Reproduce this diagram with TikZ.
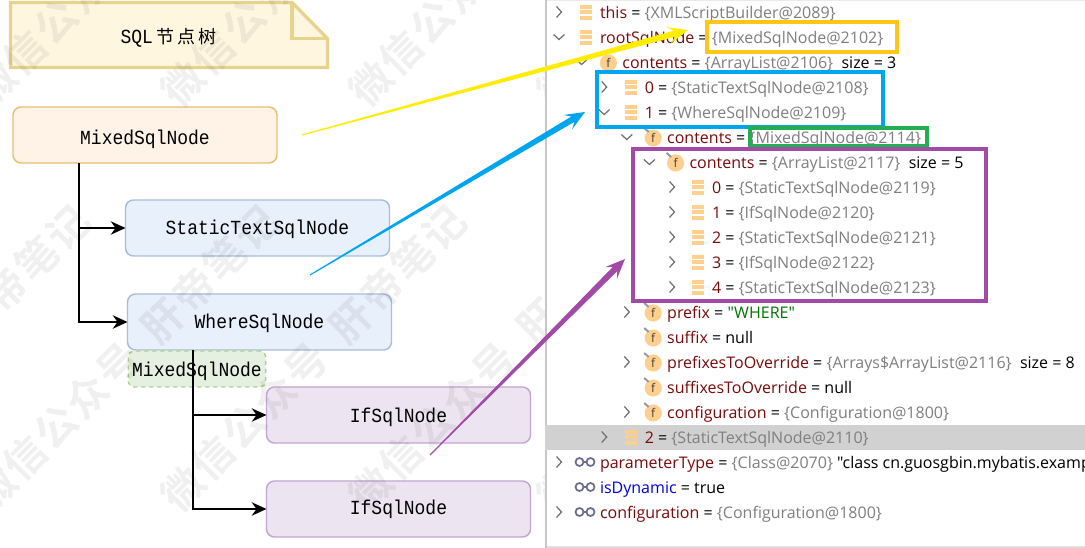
\documentclass[tikz,border=0pt]{standalone}
\usepackage{fontspec}
\setmainfont{Open Sans}
\newfontfamily\plainf{Open Sans}
\newfontfamily\monof[FakeStretch=0.9]{Liberation Mono}
\newfontfamily\cjkf{Noto Sans CJK SC}
\newfontfamily\wmf[LetterSpace=6]{Noto Sans CJK SC Bold}
\usetikzlibrary{arrows.meta,calc}
\definecolor{kw}{HTML}{7A0A0A}
\definecolor{gy}{HTML}{7F7F7F}
\definecolor{icn}{HTML}{FFCF8E}
\definecolor{chev}{HTML}{6E6E6E}
\definecolor{gold}{HTML}{FFC518}
\definecolor{skyb}{HTML}{00A6ED}
\definecolor{grn}{HTML}{23AE50}
\definecolor{purp}{HTML}{A24AA8}
\definecolor{notefill}{HTML}{FFF6E0}
\definecolor{notedraw}{HTML}{E6D48E}
\definecolor{orfill}{HTML}{FFF2E6}
\definecolor{ordraw}{HTML}{E8C073}
\definecolor{blfill}{HTML}{E8F0FB}
\definecolor{bldraw}{HTML}{A6BEDD}
\definecolor{gnfill}{HTML}{E6F0E0}
\definecolor{gndraw}{HTML}{ABD08F}
\definecolor{pufill}{HTML}{ECE5F1}
\definecolor{pudraw}{HTML}{C3A6CF}
\tikzset{
  bx/.style={draw,rounded corners=6pt,line width=1.1pt,minimum width=198pt,minimum height=42pt,font=\monof\fontsize{15}{17}\selectfont,inner sep=0pt,outer sep=0pt},
  orbox/.style={bx,fill=orfill,draw=ordraw},
  blbox/.style={bx,fill=blfill,draw=bldraw},
  pubox/.style={bx,fill=pufill,draw=pudraw},
  gnbox/.style={bx,dashed,minimum width=103pt,minimum height=27pt,fill=gnfill,draw=gndraw,rounded corners=4pt},
  lowered/.style={text depth=3pt,text height={13pt+2*#1}},
  tree/.style={line width=1.5pt,-{Stealth[length=11pt,width=10pt,inset=3.5pt]}},
  notepen/.style={draw=notedraw,line width=2.5pt},
  framebox/.style={draw=#1,line width=3pt,inner sep=0pt},
  dbg/.style={anchor=west,inner sep=0pt,outer sep=0pt,font=\plainf\fontsize{12}{14}\selectfont,text height=9pt,text depth=2.5pt},
  wm/.style={black,opacity=.06,rotate=45,font=\wmf\fontsize{31}{34}\selectfont,inner sep=0pt}
}
\newcommand{\kwd}[1]{\textcolor{kw}{#1}}
\newcommand{\gyt}[1]{\textcolor{gy}{#1}}
\newcommand{\chevR}[2]{\draw[chev,line width=.9pt] ({559+22.6*#1-2.5},#2-5.5)--({559+22.6*#1+2.5},#2)--({559+22.6*#1-2.5},#2+5.5);}
\newcommand{\chevD}[2]{\draw[chev,line width=.9pt] ({559+22.6*#1-5.5},#2-2.5)--({559+22.6*#1},#2+2.5)--({559+22.6*#1+5.5},#2-2.5);}
\newcommand{\bars}[2]{\foreach \dy in {-7,-1.5,4}{\fill[icn] ({586+22.4*#1-6},#2+\dy) rectangle ({586+22.4*#1+6},#2+\dy+3.6);}}
\newcommand{\ficon}[3]{\fill[icn] ({586+22.4*#1},#2+1) circle[radius=6.4pt];
  \node[inner sep=0pt,font=\plainf\fontsize{9}{10}\selectfont,text=black!75] (#3) at ({586+22.4*#1},#2+1) {f};}
\newcommand{\pin}[2]{\draw[gray!80,line width=1.5pt] ({586+22.4*#1-9},#2-9)--({586+22.4*#1-4.5},#2-5);}
\newcommand{\glasses}[1]{\draw[gray!85!blue,line width=1.3pt] (579.5,#1) circle[radius=3pt] (590.5,#1) circle[radius=3pt] (583.5,#1)--(586.5,#1);}
\newcommand{\rowtext}[4]{\node[dbg] (#1) at ({600+22.4*#2},#3+2) {#4};}
\newcommand{\flexarrow}[4]{%
  \fill[#3] let \p1=($(#2)-(#1)$), \n1={atan2(\y1,\x1)} in
   ($(#1)+(\n1+90:.4pt)$) -- ($(#2)+(\n1:-10.5pt)+(\n1+90:#4)$) -- ($(#2)+(\n1:-15pt)+(\n1+90:#4+4pt)$) -- (#2)
   -- ($(#2)+(\n1:-15pt)+(\n1-90:#4+4pt)$) -- ($(#2)+(\n1:-10.5pt)+(\n1-90:#4)$) -- ($(#1)+(\n1-90:.4pt)$) -- cycle;}
\begin{document}
\begin{tikzpicture}[x=.75pt,y=-.75pt]
\useasboundingbox (0,0) rectangle (1085,548);
\fill[white] (0,0) rectangle (1085,548);

% sticky note
\path[fill=notefill,notepen,line join=miter]
  (10.5,2.5)--(292,2.5)--(327.5,38.5)--(327.5,67.5)--(10.5,67.5)--cycle;
\draw[notepen] (292,2.5)--(292,38.5)--(327.5,38.5);
\node[inner sep=0pt] (title) at (168.5,38) {\monof\fontsize{15}{17}\selectfont SQL\,\cjkf\fontsize{13.5}{16}\selectfont 节\,点\,树};

% tree boxes
\node[orbox,lowered=1.9pt] (mixedroot) at (145,135) {MixedSqlNode};
\node[blbox,lowered=-.4pt] (stat) at (257.5,228) {StaticTextSqlNode};
\node[blbox,lowered=.2pt] (wherenode) at (259.5,322) {WhereSqlNode};
\node[gnbox,lowered=.4pt] (mixedgreen) at (197,369) {MixedSqlNode};
\node[pubox,lowered=.75pt] (if1) at (398.5,415) {IfSqlNode};
\node[pubox,lowered=-.75pt] (if2) at (398.5,509) {IfSqlNode};

% tree connectors
\coordinate (trunkA) at (79,163);
\coordinate (trunkB) at (193,350);
\coordinate (trunkAm) at (79,228);
\coordinate (trunkBm) at (193,415);
\draw[tree] (trunkA) |- (wherenode.west);
\draw[tree] (trunkAm) -- (stat.west);
\draw[tree] (trunkB) |- (if2.west);
\draw[tree] (trunkBm) -- (if1.west);

% watermark
\begin{scope}
\clip (0,0) rectangle (545,548);
\foreach \k in {-1,0,1,2,3}{
  \node[wm] (wmlow\k) at ({125+188*\k},358) {微信公众号\hspace{16pt}肝帝笔记};
  \node[wm] (wmup\k) at ({125+188*\k},-47) {微信公众号\hspace{16pt}肝帝笔记};
}
\end{scope}

% debugger pane
\fill[white] (545,0) rectangle (1085,548);
\fill[black!8] (545,0) rectangle (1085,1.5);
\fill[black!12] (545,545.5) rectangle (1085,548);
\fill[black!22] (545,0) rectangle (546.5,548);
\fill[black!18] (545,425) rectangle (1085,450);

\chevR{0}{12}\bars{0}{12}\rowtext{r1}{0}{12}{\kwd{this} = \gyt{\{XMLScriptBuilder@2089\}}}
\chevD{0}{37}\bars{0}{37}\rowtext{r2}{0}{37}{\kwd{rootSqlNode} = \gyt{\{MixedSqlNode@2102\}}}
\chevD{1}{62}\ficon{1}{62}{f2}\rowtext{r3}{1}{62}{\kwd{contents} = \gyt{\{ArrayList@2106\}}\ \ size = 3}
\chevR{2}{87}\bars{2}{87}\rowtext{r4}{2}{87}{\kwd{0} = \gyt{\{StaticTextSqlNode@2108\}}}
\chevD{2}{112}\bars{2}{112}\rowtext{r5}{2}{112}{\kwd{1} = \gyt{\{WhereSqlNode@2109\}}}
\chevD{3}{137}\ficon{3}{137}{f3}\pin{3}{137}\rowtext{r6}{3}{137}{\kwd{contents} = \gyt{\{MixedSqlNode@2114\}}}
\chevD{4}{162}\ficon{4}{162}{f4}\pin{4}{162}\rowtext{r7}{4}{162}{\kwd{contents} = \gyt{\{ArrayList@2117\}}\ \ size = 5}
\chevR{5}{187}\bars{5}{187}\rowtext{r8}{5}{187}{\kwd{0} = \gyt{\{StaticTextSqlNode@2119\}}}
\chevR{5}{212}\bars{5}{212}\rowtext{r9}{5}{212}{\kwd{1} = \gyt{\{IfSqlNode@2120\}}}
\chevR{5}{237}\bars{5}{237}\rowtext{r10}{5}{237}{\kwd{2} = \gyt{\{StaticTextSqlNode@2121\}}}
\chevR{5}{262}\bars{5}{262}\rowtext{r11}{5}{262}{\kwd{3} = \gyt{\{IfSqlNode@2122\}}}
\chevR{5}{287}\bars{5}{287}\rowtext{r12}{5}{287}{\kwd{4} = \gyt{\{StaticTextSqlNode@2123\}}}
\chevR{3}{312}\ficon{3}{312}{f5}\pin{3}{312}\rowtext{r13}{3}{312}{\kwd{prefix} = \textcolor{green!45!black}{"WHERE"}}
\ficon{3}{337}{f6}\pin{3}{337}\rowtext{r14}{3}{337}{\kwd{suffix} = null}
\chevR{3}{362}\ficon{3}{362}{f7}\pin{3}{362}\rowtext{r15}{3}{362}{\kwd{prefixesToOverride} = \gyt{\{Arrays\$ArrayList@2116\}}\ \ size = 8}
\ficon{3}{387}{f8}\pin{3}{387}\rowtext{r16}{3}{387}{\kwd{suffixesToOverride} = null}
\chevR{3}{412}\ficon{3}{412}{f9}\pin{3}{412}\rowtext{r17}{3}{412}{\kwd{configuration} = \gyt{\{Configuration@1800\}}}
\chevR{2}{437}\bars{2}{437}\rowtext{r18}{2}{437}{\kwd{2} = \gyt{\{StaticTextSqlNode@2110\}}}
\begin{scope}
\clip (545,450) rectangle (1085,475);
\chevR{0}{462}\glasses{462}\rowtext{r19}{0}{462}{\kwd{parameterType} = \gyt{\{Class@2070\}} "class cn.guosgbin.mybatis.exampl}
\end{scope}
\glasses{487}\rowtext{r20}{0}{487}{\textcolor{blue!90!black}{isDynamic} = true}
\chevR{0}{512}\glasses{512}\rowtext{r21}{0}{512}{\kwd{configuration} = \gyt{\{Configuration@1800\}}}

% highlight frames
\node[framebox=gold,minimum width=142pt,minimum height=23pt] (fgold) at (802,37) {};
\node[framebox=skyb,minimum width=214pt,minimum height=41pt] (fblue) at (740,99.5) {};
\node[framebox=grn,minimum width=133pt,minimum height=14pt] (fgreen) at (838.5,137) {};
\node[framebox=purp,minimum width=265pt,minimum height=114pt] (fpurple) at (809.5,225.5) {};

% callout arrows
\coordinate (ya) at (302,135);
\coordinate (yb) at (688,30);
\coordinate (ba) at (310,275);
\coordinate (bb) at (585,112);
\coordinate (pa) at (430,455);
\coordinate (pb) at (625,259);
\flexarrow{ya}{yb}{yellow!95!orange}{2.3pt}
\flexarrow{ba}{bb}{skyb}{2.3pt}
\flexarrow{pa}{pb}{purp}{2.3pt}
\end{tikzpicture}
\end{document}
